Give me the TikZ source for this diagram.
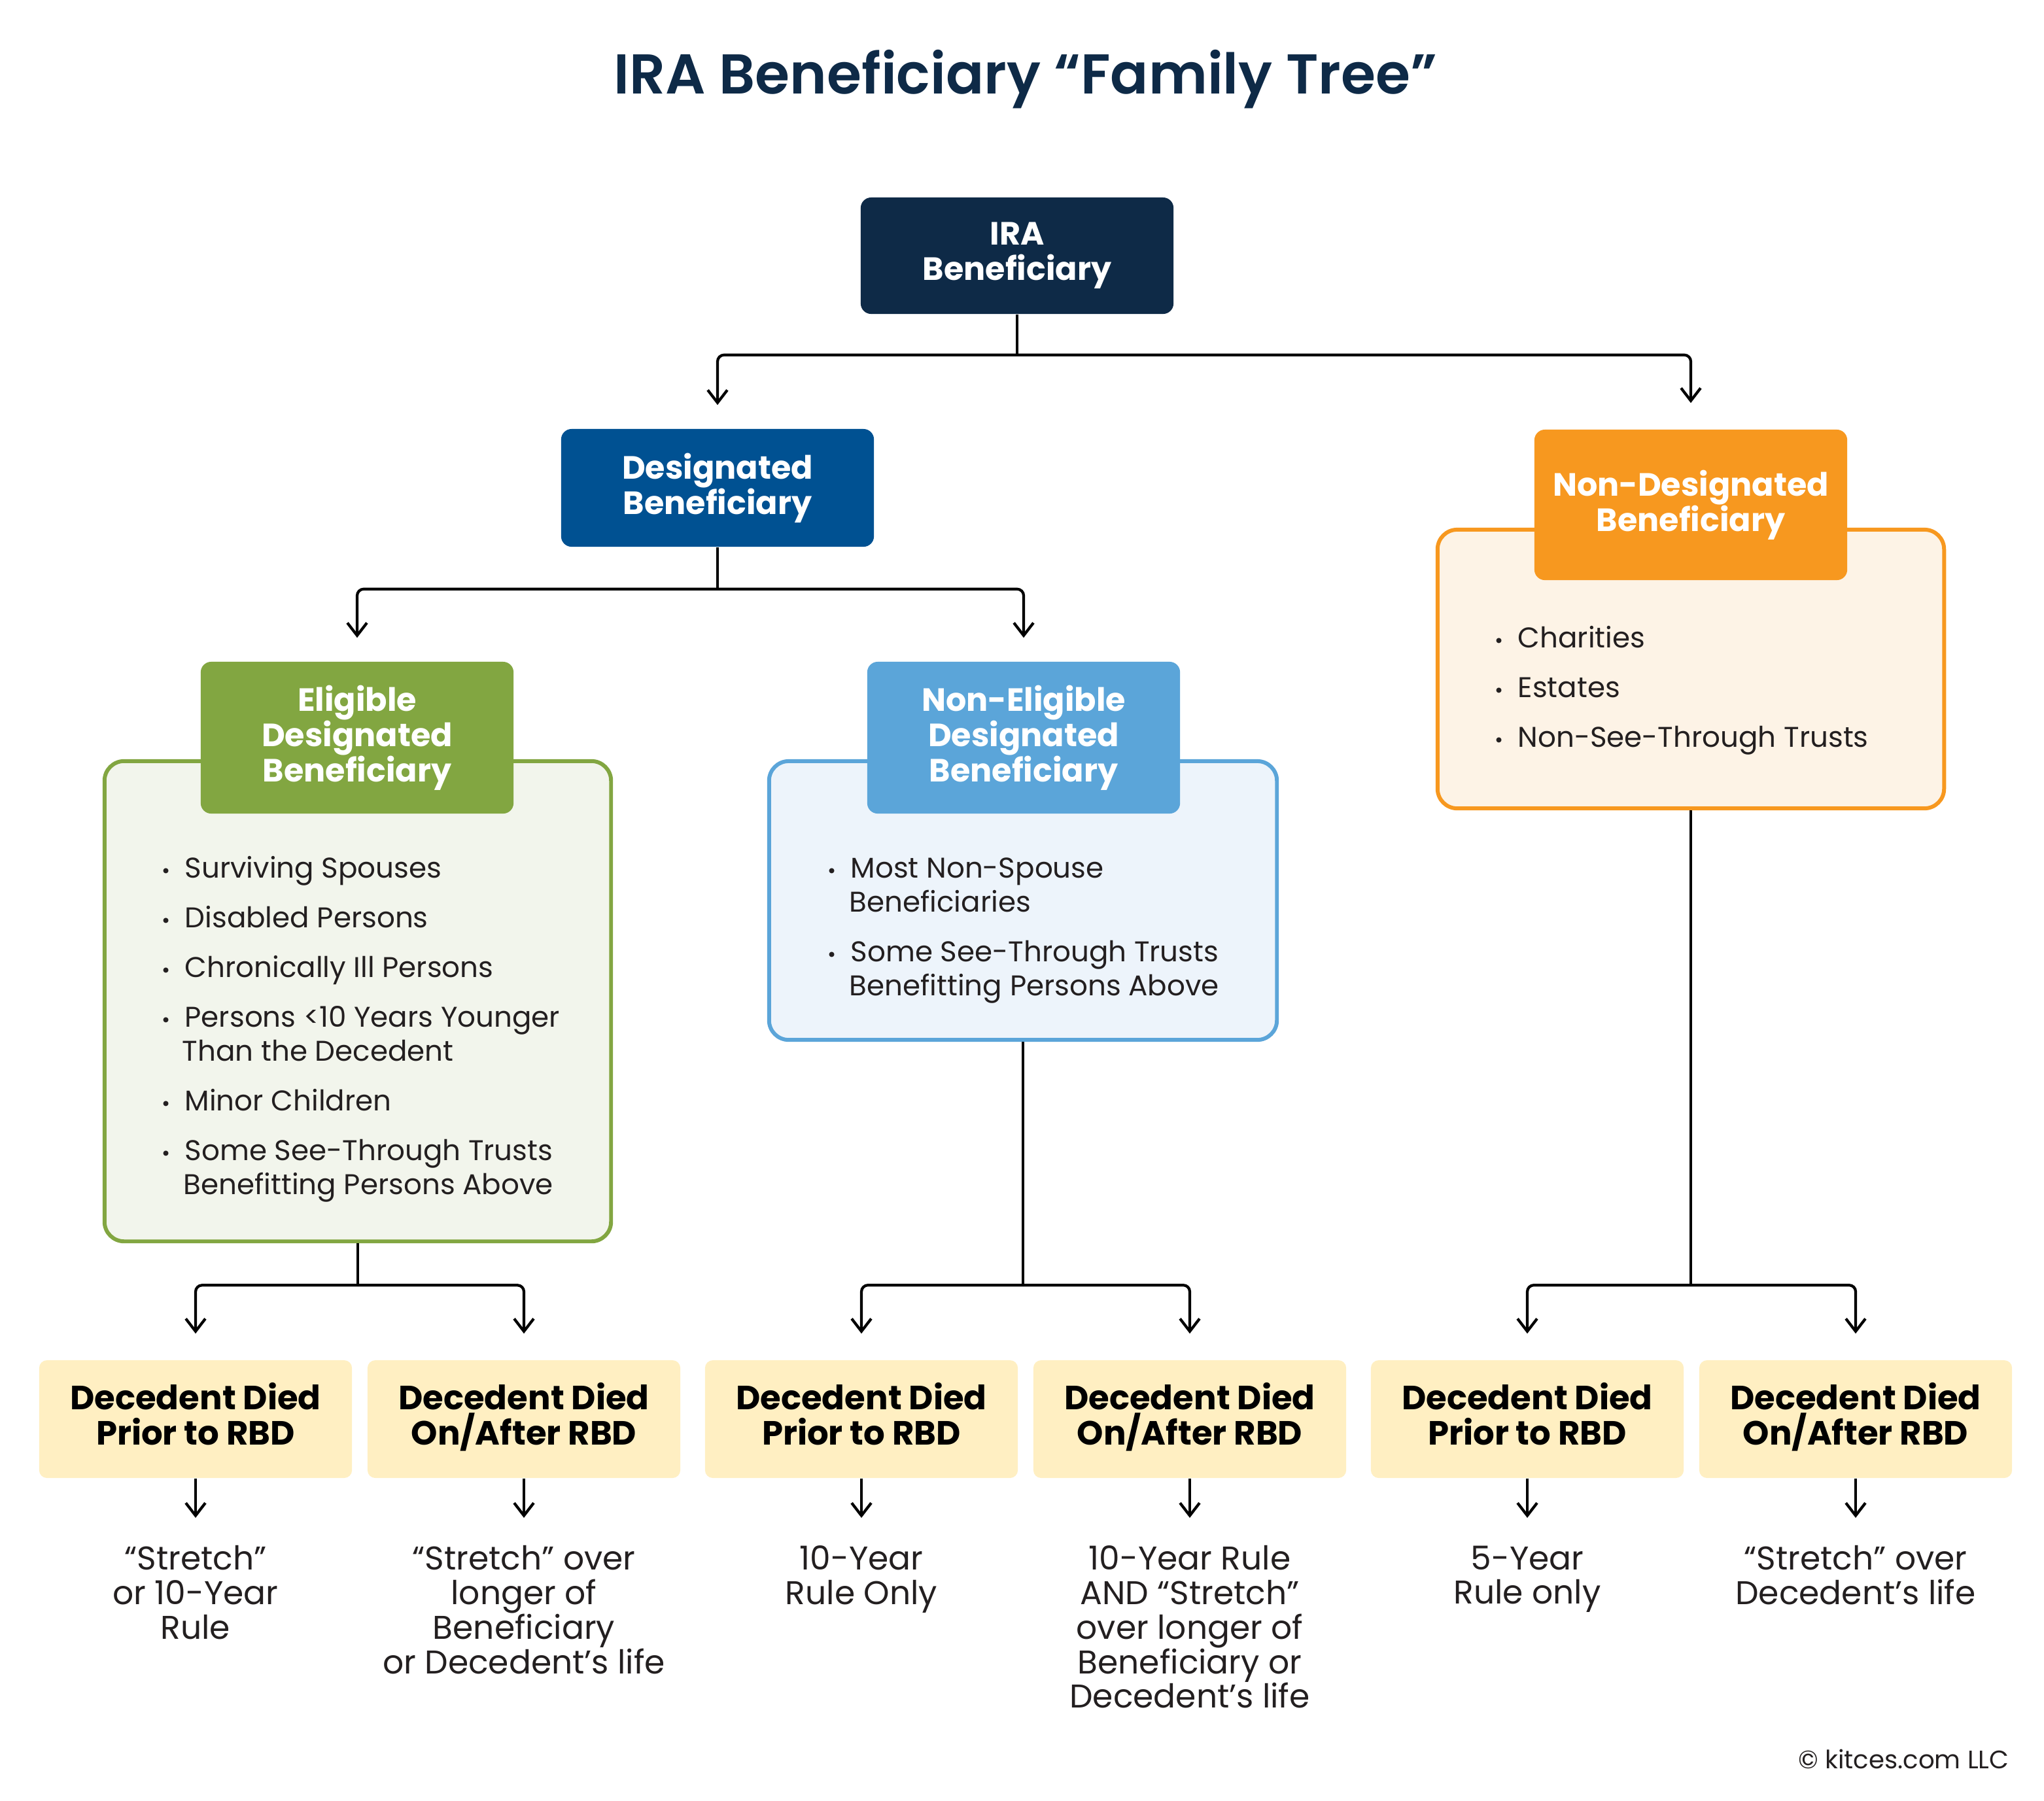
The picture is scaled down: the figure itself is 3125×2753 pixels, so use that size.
\documentclass[tikz,border=0pt]{standalone}
\usepackage{fontspec}
\setmainfont{Poppins}
\newfontfamily\titlefont{Poppins SemiBold}
\usetikzlibrary{arrows.meta}
\usetikzlibrary{positioning}

\definecolor{navy}{HTML}{0E2A47}
\definecolor{desblue}{HTML}{005192}
\definecolor{edbgreen}{HTML}{82A641}
\definecolor{edbfill}{HTML}{F2F5EC}
\definecolor{nedbblue}{HTML}{5BA5D9}
\definecolor{nedbfill}{HTML}{EDF4FB}
\definecolor{ndorange}{HTML}{F7981F}
\definecolor{ndfill}{HTML}{FDF3E6}
\definecolor{rbdyellow}{HTML}{FFEFC2}
\definecolor{inkgray}{HTML}{231F20}

\newcommand{\bul}{\llap{\small\textbullet\hspace{0.22cm}}}

\begin{document}
\begin{tikzpicture}[x=0.01cm, y=-0.01cm,
		head/.style={rounded corners=0.16cm, inner sep=0, minimum width=4.78cm, text=white, align=center, font=\fontsize{14}{15.3}\selectfont\bfseries},
		frame/.style={rounded corners=0.3cm, line width=1.7pt, inner sep=0},
		rbd/.style={fill=rbdyellow, rounded corners=0.12cm, inner sep=0, minimum width=4.78cm, minimum height=1.8cm, align=center, text=black, font=\fontsize{14.6}{15.3}\selectfont\bfseries},
		item/.style={anchor=base west, inner sep=0, text=inkgray, font=\fontsize{12.4}{14}\selectfont},
		rule/.style={anchor=north, inner sep=0, align=center, text=inkgray, font=\fontsize{14.3}{15}\selectfont},
		wire/.style={line width=1.2pt, rounded corners=0.1cm},
		arr/.style={wire, -{Straight Barb[length=5.5pt, width=8.5pt]}}]
	\useasboundingbox (0,0) rectangle (3125,2753);

	\node[font=\titlefont\fontsize{24.4}{28}\selectfont, text=navy] (title) at (1568,121) {IRA Beneficiary “Family Tree”};

	% top of the tree
	\node[head, fill=navy, minimum height=1.78cm] (ira) at (1555,391) {IRA\\Beneficiary};
	\node[head, fill=desblue, minimum height=1.8cm] (des) at (1097,746) {Designated\\Beneficiary};

	% non-designated branch
	\node[frame, draw=ndorange, fill=ndfill, minimum width=7.74cm, minimum height=4.26cm] (ndbox) at (2585,1023) {};
	\node[head, fill=ndorange, minimum height=2.3cm] (nd) at (2585,772) {Non-Designated\\Beneficiary};
	\node[item] (nd1) at (2320,990) {\bul Charities};
	\node[item] (nd2) at (2320,1066) {\bul Estates};
	\node[item] (nd3) at (2320,1142) {\bul Non-See-Through Trusts};

	% eligible designated
	\node[frame, draw=edbgreen, fill=edbfill, minimum width=7.74cm, minimum height=7.34cm] (ebox) at (547,1531) {};
	\node[head, fill=edbgreen, minimum height=2.32cm] (edb) at (546,1128) {Eligible\\Designated\\Beneficiary};
	\node[item] (e1) at (282,1342) {\bul Surviving Spouses};
	\node[item] (e2) at (282,1418) {\bul Disabled Persons};
	\node[item] (e3) at (282,1494) {\bul Chronically Ill Persons};
	\node[item] (e4) at (282,1570) {\bul Persons <10 Years Younger};
	\node[item] (e4b) at (278,1622) {Than the Decedent};
	\node[item] (e5) at (282,1698) {\bul Minor Children};
	\node[item] (e6) at (282,1774) {\bul Some See-Through Trusts};
	\node[item] (e6b) at (280,1826) {Benefitting Persons Above};

	% non-eligible designated
	\node[frame, draw=nedbblue, fill=nedbfill, minimum width=7.76cm, minimum height=4.26cm] (nebox) at (1564,1377) {};
	\node[head, fill=nedbblue, minimum height=2.32cm] (nedb) at (1565,1128) {Non-Eligible\\Designated\\Beneficiary};
	\node[item] (ne1) at (1300,1342) {\bul Most Non-Spouse};
	\node[item] (ne1b) at (1298,1394) {Beneficiaries};
	\node[item] (ne2) at (1300,1470) {\bul Some See-Through Trusts};
	\node[item] (ne2b) at (1298,1522) {Benefitting Persons Above};

	% RBD boxes
	\node[rbd] (b1) at (299,2170) {Decedent Died\\Prior to RBD\strut};
	\node[rbd] (b2) at (801,2170) {Decedent Died\\On/After RBD\strut};
	\node[rbd] (b3) at (1317,2170) {Decedent Died\\Prior to RBD\strut};
	\node[rbd] (b4) at (1819,2170) {Decedent Died\\On/After RBD\strut};
	\node[rbd] (b5) at (2335,2170) {Decedent Died\\Prior to RBD\strut};
	\node[rbd] (b6) at (2837,2170) {Decedent Died\\On/After RBD\strut};

	\node[rule] (r1) at (299,2363) {“Stretch”\\or 10-Year\\Rule};
	\node[rule] (r2) at (801,2363) {“Stretch” over\\longer of\\Beneficiary\\or Decedent’s life};
	\node[rule] (r3) at (1317,2363) {10-Year\\Rule Only};
	\node[rule] (r4) at (1819,2363) {10-Year Rule\\AND “Stretch”\\over longer of\\Beneficiary or\\Decedent’s life};
	\node[rule] (r5) at (2335,2363) {5-Year\\Rule only};
	\node[rule] (r6) at (2837,2363) {“Stretch” over\\Decedent’s life};

	\node[anchor=east, inner sep=0, text=inkgray, font=\fontsize{11}{13}\selectfont] (copy) at (3072,2690) {© kitces.com LLC};

	% connectors
	\path (ira.south) ++(0,62) coordinate (ij);
	\path (des.south) ++(0,64) coordinate (dj);
	\path (ebox.south) ++(0,64) coordinate (ej);
	\path (nebox.south) ++(0,372) coordinate (nej);
	\path (ndbox.south) ++(0,726) coordinate (ndj);

	\draw[wire] (ira.south) -- (ij);
	\draw[arr, shorten >=0.36cm] (ij) -| (des.north);
	\draw[arr, shorten >=0.4cm] (ij) -| (nd.north);

	\draw[wire] (des.south) -- (dj);
	\draw[arr, shorten >=0.36cm] (dj) -| (edb.north);
	\draw[arr, shorten >=0.36cm] (dj) -| (nedb.north);

	\draw[wire] (ebox.south) -- (ej);
	\draw[arr, shorten >=0.4cm] (ej) -| (b1.north);
	\draw[arr, shorten >=0.4cm] (ej) -| (b2.north);
	\draw[wire] (nebox.south) -- (nej);
	\draw[arr, shorten >=0.4cm] (nej) -| (b3.north);
	\draw[arr, shorten >=0.4cm] (nej) -| (b4.north);
	\draw[wire] (ndbox.south) -- (ndj);
	\draw[arr, shorten >=0.4cm] (ndj) -| (b5.north);
	\draw[arr, shorten >=0.4cm] (ndj) -| (b6.north);

	\draw[arr, shorten >=0.42cm] (b1.south) -- (r1.north);
	\draw[arr, shorten >=0.42cm] (b2.south) -- (r2.north);
	\draw[arr, shorten >=0.42cm] (b3.south) -- (r3.north);
	\draw[arr, shorten >=0.42cm] (b4.south) -- (r4.north);
	\draw[arr, shorten >=0.42cm] (b5.south) -- (r5.north);
	\draw[arr, shorten >=0.42cm] (b6.south) -- (r6.north);
\end{tikzpicture}
\end{document}
